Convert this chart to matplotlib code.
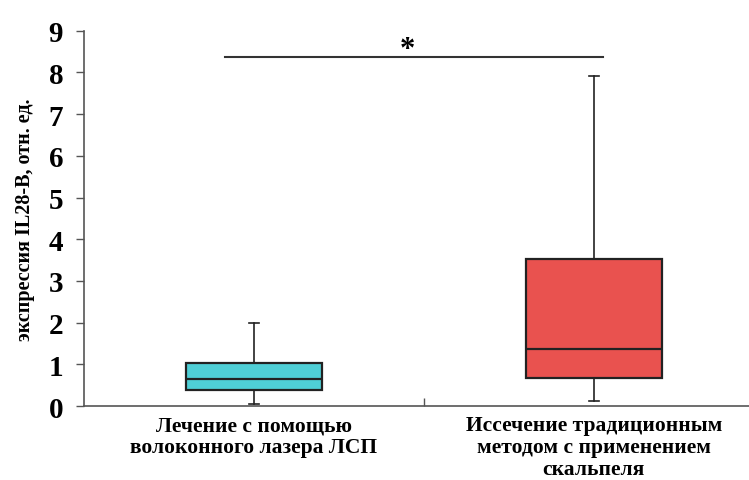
import matplotlib.pyplot as plt

# Экспрессия IL28-B по группам (отн. ед.)
groups = ['Лечение с помощью\nволоконного лазера ЛСП',
          'Иссечение традиционным\nметодом с применением\nскальпеля']
whis_lo = [0.05, 0.12]
q1 = [0.38, 0.67]
median = [0.65, 1.37]
q3 = [1.02, 3.53]
whis_hi = [2.0, 7.92]
colors = ['#4FCFD6', '#E9524F']

sig_y = 8.38
sig_from, sig_to = 0.914, 2.027

plt.rcParams['font.family'] = ['Liberation Serif', 'DejaVu Serif']

fig = plt.figure(figsize=(7.49, 4.81), dpi=100)
ax = fig.add_axes([0.1121, 0.1538, 0.8879, 0.7803])

stats = []
for i in range(len(groups)):
    stats.append({'whislo': whis_lo[i], 'q1': q1[i], 'med': median[i],
                  'q3': q3[i], 'whishi': whis_hi[i], 'fliers': []})

bp = ax.bxp(stats, positions=[1, 2], widths=0.4, patch_artist=True,
            showfliers=False,
            boxprops=dict(linewidth=1.6, edgecolor='#222222'),
            medianprops=dict(color='#222222', linewidth=1.6),
            whiskerprops=dict(color='#222222', linewidth=1.2),
            capprops=dict(color='#222222', linewidth=1.2),
            capwidths=0.03)
for patch, c in zip(bp['boxes'], colors):
    patch.set_facecolor(c)

# линия значимости
ax.plot([sig_from, sig_to], [sig_y, sig_y], color='#333333', lw=1.5)
ax.text((sig_from + sig_to) / 2 - 0.02, sig_y - 0.17, '*', ha='center', va='bottom',
        fontsize=22, fontweight='bold')

ax.set_xlim(0.5, 2.457)
ax.set_ylim(0, 9)
ax.set_yticks(range(10))
ax.tick_params(axis='y', labelsize=21, length=6, width=1, color='#555555', pad=9)
for lab in ax.get_yticklabels():
    lab.set_fontweight('bold')

ax.set_xticks([1.5])
ax.set_xticklabels([])
ax.tick_params(axis='x', length=6, width=1, color='#555555', direction='in')
for i, g in enumerate(groups):
    ax.text(i + 1, -0.22, g, ha='center', va='top', fontsize=15.5,
            fontweight='bold', linespacing=1.12, transform=ax.transData)

ax.set_ylabel('экспрессия IL28-B, отн. ед.', fontsize=14.5, fontweight='bold',
              labelpad=10)

ax.spines['top'].set_visible(False)
ax.spines['right'].set_visible(False)
ax.spines['left'].set_color('#555555')
ax.spines['bottom'].set_color('#555555')
ax.spines['left'].set_linewidth(1.2)
ax.spines['bottom'].set_linewidth(1.2)

fig.savefig('out.png', dpi=100)
